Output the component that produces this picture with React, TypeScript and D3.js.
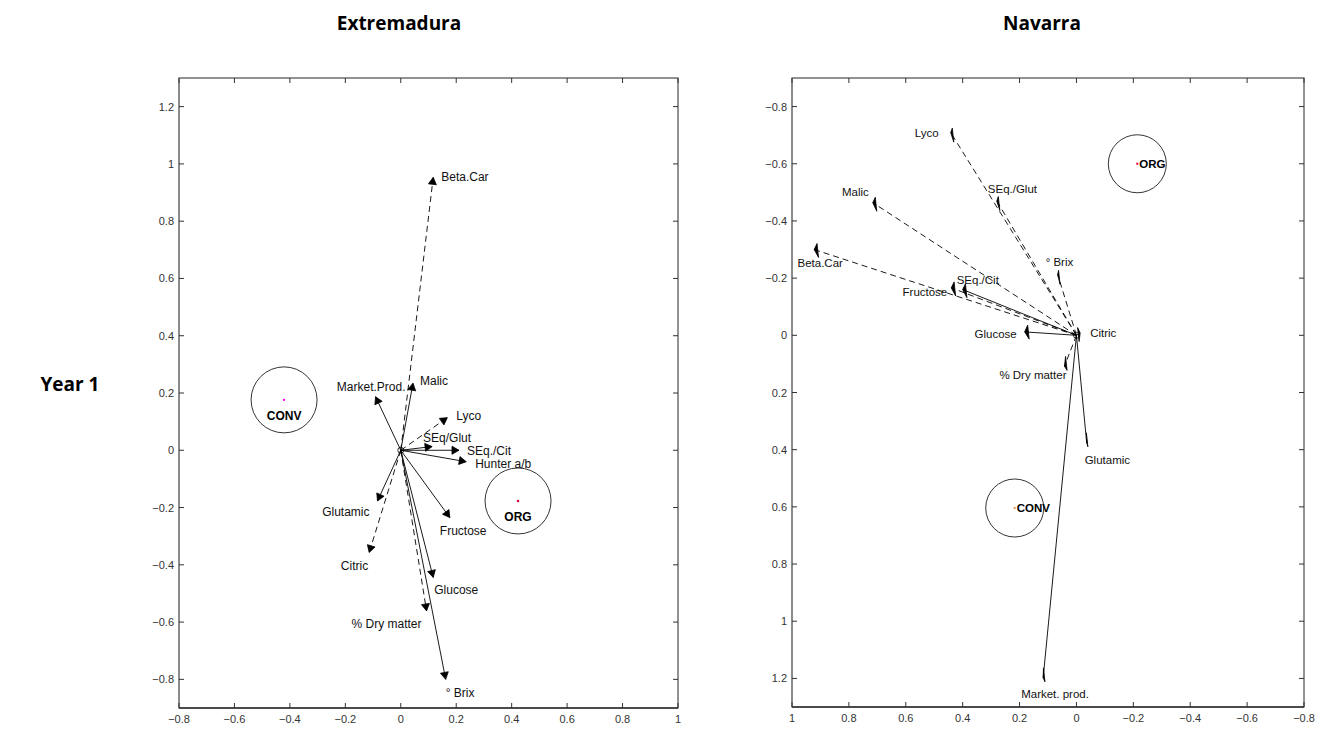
import React from "react";
import * as d3 from "d3";

// Extremadura, year 1
const extNames = ["Beta.Car", "Malic", "Market.Prod.", "Lyco", "SEq/Glut", "SEq./Cit", "Hunter a/b", "Fructose", "Glucose", "% Dry matter", "° Brix", "Glutamic", "Citric"];
const extX = [0.117, 0.044, -0.091, 0.168, 0.113, 0.21, 0.236, 0.177, 0.117, 0.093, 0.162, -0.084, -0.114];
const extY = [0.953, 0.234, 0.187, 0.114, 0.013, 0.0, -0.04, -0.235, -0.444, -0.561, -0.8, -0.177, -0.357];
const extDashed = [true, false, false, true, false, false, false, false, false, true, false, false, true];
const extGroups = ["CONV", "ORG"];
const extGroupX = [-0.421, 0.423];
const extGroupY = [0.176, -0.177];

// Navarra, year 1
const navNames = ["Lyco", "SEq./Glut", "Malic", "Beta.Car", "° Brix", "SEq./Cit", "Fructose", "Glucose", "Citric", "% Dry matter", "Glutamic", "Market. prod."];
const navX = [0.442, 0.28, 0.716, 0.922, 0.066, 0.4, 0.44, 0.182, -0.013, 0.042, -0.036, 0.117];
const navY = [-0.709, -0.47, -0.464, -0.3, -0.213, -0.16, -0.166, -0.012, -0.008, 0.108, 0.376, 1.198];
const navDashed = [true, true, true, true, true, false, true, false, false, true, false, false];
const navGroups = ["ORG", "CONV"];
const navGroupX = [-0.214, 0.217];
const navGroupY = [-0.6, 0.604];

const ticks = [-0.8, -0.6, -0.4, -0.2, 0, 0.2, 0.4, 0.6, 0.8, 1, 1.2];

// label placement (px offsets from arrow tip) : [dx, dy, anchor]
const extLabelPos: [number, number, string][] = [
  [8, 0, "start"], [7, -2, "start"], [30, -10, "end"], [9, -2, "start"], [-9, -9, "start"], [8, 1, "start"],
  [9, 2, "start"], [-10, 13, "start"], [1, 13, "start"], [-5, 13, "end"], [0, 14, "start"], [-8, 11, "end"], [-1, 13, "end"],
];
const navLabelPos: [number, number, string][] = [
  [-12, 0, "end"], [-9, -12, "start"], [-4, -11, "end"], [6, 13, "middle"], [-12, -12, "start"], [-6, -10, "start"],
  [-4, 4, "end"], [-8, 2, "end"], [10, 0, "start"], [2, 9, "end"], [-2, 17, "start"], [-22, 16, "start"],
];

const FONT = "'Liberation Sans', Arial, sans-serif";

type PanelProps = {
  left: number; right: number; top: number; bottom: number;
  xDomain: [number, number]; yDomain: [number, number];
  names: string[]; xs: number[]; ys: number[]; dashed: boolean[];
  labelPos: [number, number, string][];
  groups: string[]; gx: number[]; gy: number[]; gR: number; dotColors: string[];
  groupLabelBelow: boolean; sliverHeads: boolean;
};

function Panel(p: PanelProps) {
  const x = d3.scaleLinear().domain(p.xDomain).range([p.left, p.right]);
  const y = d3.scaleLinear().domain(p.yDomain).range([p.bottom, p.top]);
  const xt = ticks.filter((t) => t >= Math.min(...p.xDomain) - 1e-9 && t <= Math.max(...p.xDomain) + 1e-9);
  const yt = ticks.filter((t) => t >= Math.min(...p.yDomain) + 0.05 && t <= Math.max(...p.yDomain) - 0.05);
  const ox = x(0), oy = y(0);
  const tl = 5;
  return (
    <g>
      <rect x={p.left} y={p.top} width={p.right - p.left} height={p.bottom - p.top} fill="none" stroke="#262626" strokeWidth={1} />
      <line x1={p.left} y1={p.top} x2={p.left} y2={p.bottom} stroke="#8a8a8a" strokeWidth={1.6} />
      <line x1={p.left} y1={p.bottom} x2={p.right} y2={p.bottom} stroke="#333" strokeWidth={1.3} />
      {xt.map((t) => (
        <g key={"x" + t}>
          <line x1={x(t)} x2={x(t)} y1={p.bottom} y2={p.bottom - tl} stroke="#333" />
          <line x1={x(t)} x2={x(t)} y1={p.top} y2={p.top + tl} stroke="#333" />
          <text x={x(t)} y={p.bottom + 15} textAnchor="middle" fontSize={11} fill="#333" fontFamily={FONT}>{d3.format("")(+t.toFixed(1))}</text>
        </g>
      ))}
      {yt.map((t) => (
        <g key={"y" + t}>
          <line x1={p.left} x2={p.left + tl} y1={y(t)} y2={y(t)} stroke="#333" />
          <line x1={p.right} x2={p.right - tl} y1={y(t)} y2={y(t)} stroke="#333" />
          <text x={p.left - 5} y={y(t) + 4} textAnchor="end" fontSize={11} fill="#333" fontFamily={FONT}>{d3.format("")(+t.toFixed(1))}</text>
        </g>
      ))}
      <circle cx={ox} cy={oy} r={3} fill="none" stroke="#000" strokeWidth={0.8} />
      {p.names.map((n, i) => {
        const tx = x(p.xs[i]), ty = y(p.ys[i]);
        const len = Math.hypot(tx - ox, ty - oy);
        const ux = (tx - ox) / len, uy = (ty - oy) / len;
        let head: string;
        if (p.sliverHeads) {
          const bx = tx - ux * 3, by = ty - uy * 3;
          head = `${tx},${ty} ${bx},${by - 7} ${bx + 1.5},${by + 7}`;
        } else {
          const bx = tx - ux * 7, by = ty - uy * 7;
          head = `${tx},${ty} ${bx - uy * 4},${by + ux * 4} ${bx + uy * 4},${by - ux * 4}`;
        }
        const [dx, dy, anchor] = p.labelPos[i];
        return (
          <g key={n}>
            <line x1={ox} y1={oy} x2={tx} y2={ty} stroke="#000" strokeWidth={0.9} strokeDasharray={p.dashed[i] ? "6,4" : undefined} />
            <polygon points={head} fill="#000" stroke="#000" strokeWidth={0.8} />
            <text x={tx + dx} y={ty + dy + 4} textAnchor={anchor as any} fontSize={p.sliverHeads ? 11.5 : 12} fontFamily={FONT} fill="#111">{n}</text>
          </g>
        );
      })}
      {p.groups.map((g, i) => {
        const cx = x(p.gx[i]), cy = y(p.gy[i]);
        return (
          <g key={g}>
            <circle cx={cx} cy={cy} r={p.gR} fill="none" stroke="#000" strokeWidth={0.8} />
            <circle cx={cx} cy={cy} r={1.2} fill={p.dotColors[i]} />
            {p.groupLabelBelow ? (
              <text x={cx} y={cy + 20} textAnchor="middle" fontSize={12} fontWeight="bold" fontFamily={FONT}>{g}</text>
            ) : (
              <text x={cx + 2} y={cy + 4} textAnchor="start" fontSize={11.5} fontWeight="bold" fontFamily={FONT}>{g}</text>
            )}
          </g>
        );
      })}
    </g>
  );
}

export default function App() {
  const titleFont = "'Open Sans', Lato, sans-serif";
  return (
    <svg width={1320} height={729} style={{ position: "absolute", left: 0, top: 0, background: "#fff" }}>
      <rect width={1320} height={729} fill="#fff" />
      <text x={399} y={30} textAnchor="middle" fontSize={19} fontWeight="bold" fontFamily={titleFont}>Extremadura</text>
      <text x={1042} y={30} textAnchor="middle" fontSize={19} fontWeight="bold" fontFamily={titleFont}>Navarra</text>
      <text x={70} y={391} textAnchor="middle" fontSize={19} fontWeight="bold" fontFamily={titleFont}>Year 1</text>
      <Panel left={179} right={678} top={78} bottom={708} xDomain={[-0.8, 1]} yDomain={[-0.9, 1.3]}
        names={extNames} xs={extX} ys={extY} dashed={extDashed} labelPos={extLabelPos}
        groups={extGroups} gx={extGroupX} gy={extGroupY} gR={33} dotColors={["#ff00ff", "#cc0033"]}
        groupLabelBelow={true} sliverHeads={false} />
      <Panel left={792} right={1304} top={78} bottom={707} xDomain={[1, -0.8]} yDomain={[1.3, -0.9]}
        names={navNames} xs={navX} ys={navY} dashed={navDashed} labelPos={navLabelPos}
        groups={navGroups} gx={navGroupX} gy={navGroupY} gR={29} dotColors={["#e6194b", "#f4a460"]}
        groupLabelBelow={false} sliverHeads={true} />
    </svg>
  );
}
